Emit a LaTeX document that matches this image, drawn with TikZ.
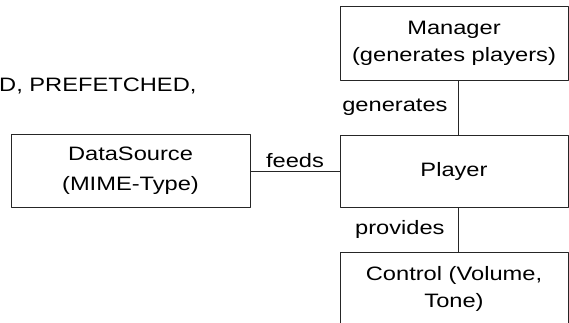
\documentclass[tikz,border=0pt]{standalone}
\usepackage{fontspec}
\setmainfont{Liberation Sans}[FakeStretch=1.22]
\usepackage{tikz}
\tikzset{box/.style={draw=black!85, line width=0.9pt, minimum width=228pt, align=center, font=\fontsize{19.4pt}{27pt}\selectfont},
	lbl/.style={font=\fontsize{19.4pt}{27pt}\selectfont, inner sep=0pt},
	wire/.style={draw=black!85, line width=0.9pt}}

\begin{document}
\begin{tikzpicture}[x=1pt, y=-1pt, line join=bevel]
		\useasboundingbox (0,0) rectangle (569,322);
		\clip (0,0) rectangle (569,322);
		\node[box, minimum height=74pt] (mgr) at (454,43) {Manager\\(generates players)};
		\node[box, minimum height=72pt] (ply) at (454,171) {Player};
		\node[box, minimum width=239pt, minimum height=73pt] (src) at (130.5,171) {DataSource\\[3pt](MIME-Type)};
		\node[box, anchor=north, inner ysep=14.2pt] (ctl) at (454,252) {Control (Volume,\\Tone)};
		\node[lbl, anchor=base west] (state) at (-1,91) {D, PREFETCHED,};
		\draw[wire] ([xshift=4pt]mgr.south) -- node[lbl, left, inner xsep=10pt] (gen) {generates} ([xshift=4pt]ply.north);
		\draw[wire] ([xshift=4pt]ply.south) -- node[lbl, left, inner xsep=13pt] (prov) {provides} ([xshift=4pt]ctl.north);
		\draw[wire] (src.east) -- node[lbl, above, inner ysep=3pt] (feed) {feeds} (ply.west);
	\end{tikzpicture}
\end{document}
